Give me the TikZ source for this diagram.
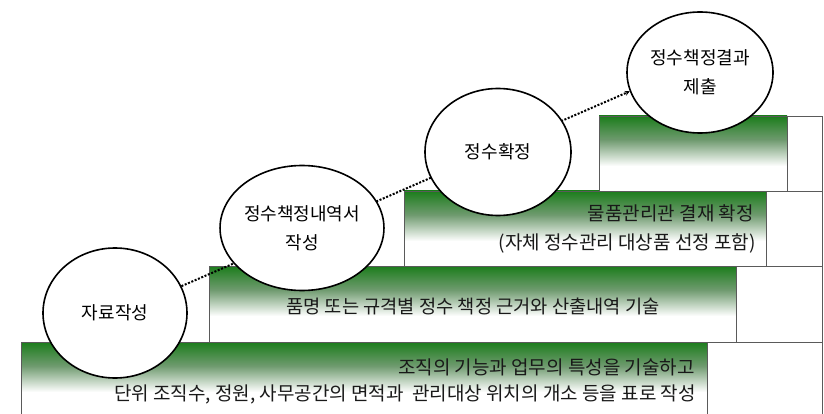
\documentclass[tikz,border=0pt]{standalone}
\usepackage{fontspec}
\setmainfont{Noto Sans CJK KR}
\usetikzlibrary{shapes.geometric,arrows.meta}
\definecolor{stepgreen}{RGB}{28,125,28}
\definecolor{midgreen}{RGB}{112,155,112}
\definecolor{edgegray}{RGB}{90,90,90}
\pgfdeclarelayer{back}
\pgfdeclarelayer{mid}
\pgfsetlayers{back,mid,main}
\begin{document}
\begin{tikzpicture}[x=1pt,y=-1pt,
  whitebox/.style={draw=edgegray,line width=0.7pt,fill=white},
  fadetop/.style={top color=stepgreen,bottom color=midgreen},
  fadelow/.style={top color=midgreen,bottom color=white},
  greenedge/.style={draw=edgegray,line width=0.7pt},
  stage/.style={ellipse,draw=black,line width=1.6pt,fill=white,inner sep=0pt,align=center,font=\fontsize{18}{29}\selectfont},
  desc/.style={inner sep=0pt,font=\fontsize{19}{20}\selectfont,text=black!90},
  dotline/.style={line width=2pt,dash pattern=on 2pt off 1.6pt,-{Stealth[length=5pt,width=5pt]}}
]
\useasboundingbox (0,0) rectangle (824,414);

\begin{pgfonlayer}{back}
  \fill[white] (0,0) rectangle (824,414);
  % row 1
  \path[whitebox] (21,342) rectangle (822,417);
  \shade[fadetop] (21,342) rectangle (707,366.2);
  \shade[fadelow] (21,366) rectangle (707,392);
  \path[greenedge] (21,342) rectangle (707,417);
  % row 2
  \path[whitebox] (209,266) rectangle (822,342);
  \shade[fadetop] (209,266) rectangle (736,290.2);
  \shade[fadelow] (209,290) rectangle (736,316);
  \path[greenedge] (209,266) rectangle (736,342);
  % row 3
  \path[whitebox] (404,191) rectangle (822,266);
  \shade[fadetop] (404,191) rectangle (766,215.2);
  \shade[fadelow] (404,215) rectangle (766,241);
  \path[greenedge] (404,191) rectangle (766,266);
  % row 4
  \path[whitebox] (599,116) rectangle (822,191);
  \shade[fadetop] (599,116) rectangle (787,140.2);
  \shade[fadelow] (599,140) rectangle (787,166);
  \path[greenedge] (599,116) rectangle (787,191);
\end{pgfonlayer}

\node[desc,anchor=east] (t1a) at (695,367) {조직의 기능과 업무의 특성을 기술하고};
\node[desc,anchor=east] (t1b) at (696,394) {단위 조직수, 정원, 사무공간의 면적과~ 관리대상 위치의 개소 등을 표로 작성};
\node[desc,font=\fontsize{18.7}{20}\selectfont] (t2) at (473,306) {품명 또는 규격별 정수 책정 근거와 산출내역 기술};
\node[desc,anchor=east] (t3a) at (754,213) {물품관리관 결재 확정};
\node[desc,anchor=east] (t3b) at (756,243) {(자체 정수관리 대상품 선정 포함)};

\node[stage,minimum width=144pt,minimum height=130pt] (c1) at (115,313) {자료작성};
\node[stage,minimum width=142pt,minimum height=125pt] (c2) at (302,228) {정수책정내역서\\작성};
\node[stage,minimum width=146pt,minimum height=127pt] (c3) at (498,152) {정수확정};
\node[stage,minimum width=146pt,minimum height=121pt] (c4) at (700,72.5) {정수책정결과\\제출};

\begin{pgfonlayer}{mid}
  \draw[dotline] (c1.22) -- (c4.195);
\end{pgfonlayer}
\end{tikzpicture}
\end{document}
